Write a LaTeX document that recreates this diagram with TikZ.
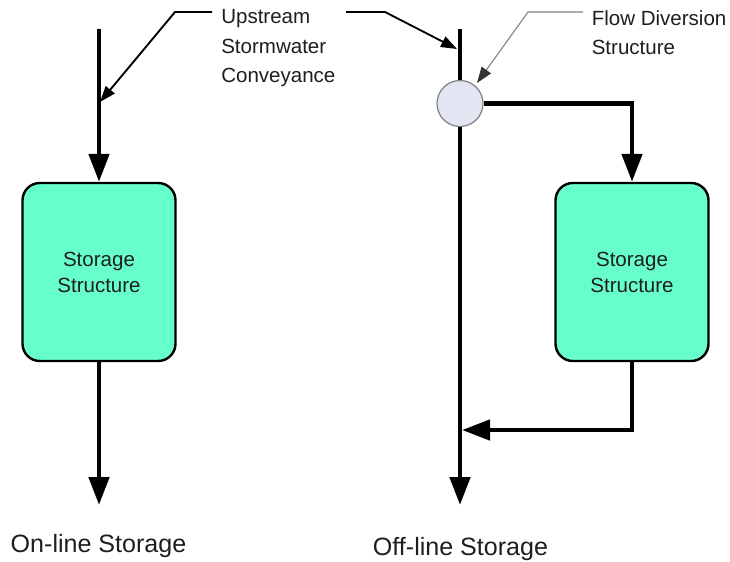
\documentclass[tikz,border=0pt]{standalone}
\usepackage{fontspec}
\setmainfont{Liberation Sans}
\usetikzlibrary{arrows.meta,shapes.geometric}
\definecolor{storefill}{HTML}{66FFCC}
\definecolor{circfill}{HTML}{E1E6F2}
\definecolor{txt}{HTML}{1E1E1E}
\tikzset{
  flowhead/.tip={Triangle[length=21pt,width=15pt]},
  flow/.style={line width=3.5pt, -flowhead},
  flowplain/.style={line width=3.5pt},
  storebox/.style={draw=black, line width=1.8pt, fill=storefill, rounded corners=13pt,
    minimum width=114.75pt, minimum height=133.5pt, inner sep=0pt, align=center,
    font=\fontsize{15.4}{19.5}\selectfont, text=txt},
  label/.style={font=\fontsize{15.4}{22}\selectfont, text=txt, align=left, anchor=north west, inner sep=0pt},
  caption/.style={font=\fontsize{18.8}{22}\selectfont, text=txt, anchor=base, inner sep=0pt},
  leader/.style={line width=1.4pt, -{Triangle[length=12pt,width=8.5pt]}},
  grayleader/.style={draw=gray, line width=0.8pt, -{Triangle[length=12pt,width=8.5pt,color=black!80,fill=black!80]}},
  diverter/.style={draw=gray, line width=0.9pt, fill=circfill, circle, minimum size=34.5pt, inner sep=0pt},
}
\begin{document}
\begin{tikzpicture}[x=0.75pt,y=-0.75pt]
\useasboundingbox (0,0) rectangle (730,561);
% left system (on-line)
\coordinate (ltop) at (99,29);
\node[storebox] (lbox) at (99,272) {Storage\\Structure};
\coordinate (lend) at (99,505);
\coordinate (lhit) at (100,102);
\draw[flow] (ltop) -- (lbox.north);
\draw[flow] (lbox.south) -- (lend);
% right system (off-line)
\coordinate (rtop) at (460,29);
\node[diverter] (div) at (460,103.5) {};
\coordinate (rend) at (460,505);
\node[storebox] (rbox) at (632,272) {Storage\\Structure};
\coordinate (rcorner) at (632,103.5);
\coordinate (rback) at (632,430);
\coordinate (rjoin) at (462,430);
\coordinate (rhit) at (457,49);
\draw[flowplain] (rtop) -- (div.north);
\draw[flow] (div.south) -- (rend);
\draw[flow] (div.east) -- (rcorner) -- (rbox.north);
\draw[flow] (rbox.south) -- (rback) -- (rjoin);
% labels with leaders
\node[label] (up) at (221,9.5) {Upstream\\Stormwater\\Conveyance};
\node[label, font=\fontsize{15.4}{21.5}\selectfont] (fd) at (591.5,10.3) {Flow Diversion\\Structure};
\coordinate (lk1) at (212,12);
\coordinate (lk2) at (175,12);
\coordinate (rk1) at (346,12);
\coordinate (rk2) at (385,12);
\coordinate (fk1) at (583,12);
\coordinate (fk2) at (528,12);
\coordinate (fhit) at (477,83);
\draw[leader] (lk1) -- (lk2) -- (lhit);
\draw[leader] (rk1) -- (rk2) -- (rhit);
\draw[grayleader] (fk1) -- (fk2) -- (fhit);
% captions
\node[caption] (lcap) at (98.5,552) {On-line Storage};
\node[caption] (rcap) at (460.5,555) {Off-line Storage};
\end{tikzpicture}
\end{document}
